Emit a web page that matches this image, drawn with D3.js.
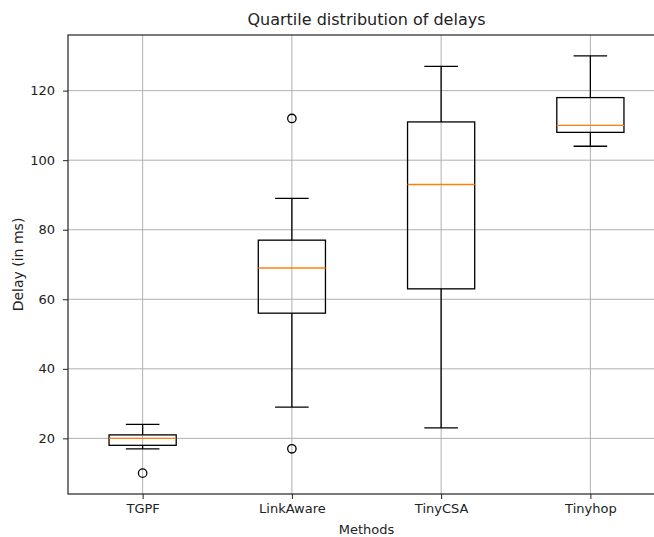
<!DOCTYPE html>
<html>
<head>
<meta charset="utf-8">
<script src="https://cdn.jsdelivr.net/npm/d3@7"></script>
<style>
  body { margin: 0; background: #fff; overflow: hidden; }
  text { font-family: "DejaVu Sans", sans-serif; fill: #222; }
</style>
</head>
<body>
<div id="chart"></div>
<script>
// methods on the x axis
const methods = ['TGPF', 'LinkAware', 'TinyCSA', 'Tinyhop']
// box statistics (ms)
const whiskerLow = [17, 29, 23, 104]
const q1 = [18, 56, 63, 108]
const median = [20, 69, 93, 110]
const q3 = [21, 77, 111, 118]
const whiskerHigh = [24, 89, 127, 130]
const outliers = [[10], [112, 17], [], []]
// y tick labels
const yTicks = [20, 40, 60, 80, 100, 120]

const width = 654
const height = 537
// the plot area runs past the right edge of the picture (cropped figure)
const plot = { left: 68, right: 665, top: 35, bottom: 494 }

const svg = d3.select('#chart').append('svg')
  .attr('width', width)
  .attr('height', height)

const x = d3.scaleLinear()
  .domain([0.5, methods.length + 0.5])
  .range([plot.left, plot.right])

const y = d3.scaleLinear()
  .domain([4, 136])
  .range([plot.bottom, plot.top])

// 网格
svg.append('g')
  .selectAll('line.gy').data(yTicks).enter()
  .append('line')
  .attr('x1', plot.left).attr('x2', plot.right)
  .attr('y1', d => y(d)).attr('y2', d => y(d))
  .attr('stroke', '#b0b0b0').attr('stroke-width', 1)

svg.append('g')
  .selectAll('line.gx').data(methods).enter()
  .append('line')
  .attr('x1', (d, i) => x(i + 1)).attr('x2', (d, i) => x(i + 1))
  .attr('y1', plot.top).attr('y2', plot.bottom)
  .attr('stroke', '#b0b0b0').attr('stroke-width', 1)

// axes
const yAxis = svg.append('g')
  .attr('transform', `translate(${plot.left},0)`)
  .call(d3.axisLeft(y).tickValues(yTicks).tickSize(5).tickPadding(8))
const xAxis = svg.append('g')
  .attr('transform', `translate(0,${plot.bottom})`)
  .call(d3.axisBottom(x).tickValues(methods.map((d, i) => i + 1))
    .tickFormat((d, i) => methods[i]).tickSize(5).tickPadding(5))
yAxis.selectAll('text').style('font-size', '13px')
xAxis.selectAll('text').style('font-size', '13px')
;[yAxis, xAxis].forEach(a => {
  a.select('.domain').remove()
  a.selectAll('text').attr('fill', '#222')
  a.selectAll('line').attr('stroke', '#222')
})

// frame
svg.append('rect')
  .attr('x', plot.left).attr('y', plot.top)
  .attr('width', plot.right - plot.left)
  .attr('height', plot.bottom - plot.top)
  .attr('fill', 'none').attr('stroke', '#222').attr('stroke-width', 1.2)

// boxes
const boxW = 0.45
const capW = 0.225
const boxes = svg.append('g').selectAll('g.box').data(methods).enter()
  .append('g').classed('box', true)

boxes.append('line')
  .attr('x1', (d, i) => x(i + 1)).attr('x2', (d, i) => x(i + 1))
  .attr('y1', (d, i) => y(whiskerLow[i])).attr('y2', (d, i) => y(q1[i]))
  .attr('stroke', '#000').attr('stroke-width', 1.3)
boxes.append('line')
  .attr('x1', (d, i) => x(i + 1)).attr('x2', (d, i) => x(i + 1))
  .attr('y1', (d, i) => y(q3[i])).attr('y2', (d, i) => y(whiskerHigh[i]))
  .attr('stroke', '#000').attr('stroke-width', 1.3)
;[whiskerLow, whiskerHigh].forEach(arr => {
  boxes.append('line')
    .attr('x1', (d, i) => x(i + 1 - capW / 2)).attr('x2', (d, i) => x(i + 1 + capW / 2))
    .attr('y1', (d, i) => y(arr[i])).attr('y2', (d, i) => y(arr[i]))
    .attr('stroke', '#000').attr('stroke-width', 1.3)
})
boxes.append('rect')
  .attr('x', (d, i) => x(i + 1 - boxW / 2))
  .attr('width', (d, i) => x(i + 1 + boxW / 2) - x(i + 1 - boxW / 2))
  .attr('y', (d, i) => y(q3[i]))
  .attr('height', (d, i) => y(q1[i]) - y(q3[i]))
  .attr('fill', 'none').attr('stroke', '#000').attr('stroke-width', 1.3)
boxes.append('line')
  .attr('x1', (d, i) => x(i + 1 - boxW / 2)).attr('x2', (d, i) => x(i + 1 + boxW / 2))
  .attr('y1', (d, i) => y(median[i])).attr('y2', (d, i) => y(median[i]))
  .attr('stroke', '#ff7f0e').attr('stroke-width', 1.3)
boxes.each(function(d, i) {
  d3.select(this).selectAll('circle').data(outliers[i]).enter()
    .append('circle')
    .attr('cx', x(i + 1)).attr('cy', v => y(v))
    .attr('r', 4.2)
    .attr('fill', 'none').attr('stroke', '#000').attr('stroke-width', 1.3)
})

// titles
const midX = (plot.left + plot.right) / 2
svg.append('text')
  .attr('x', midX).attr('y', 25)
  .attr('text-anchor', 'middle').style('font-size', '16px')
  .text('Quartile distribution of delays')
svg.append('text')
  .attr('x', midX).attr('y', 534)
  .attr('text-anchor', 'middle').style('font-size', '13px')
  .text('Methods')
svg.append('text')
  .attr('transform', `translate(23,${(plot.top + plot.bottom) / 2}) rotate(-90)`)
  .attr('text-anchor', 'middle').style('font-size', '14px')
  .text('Delay (in ms)')
</script>
</body>
</html>
